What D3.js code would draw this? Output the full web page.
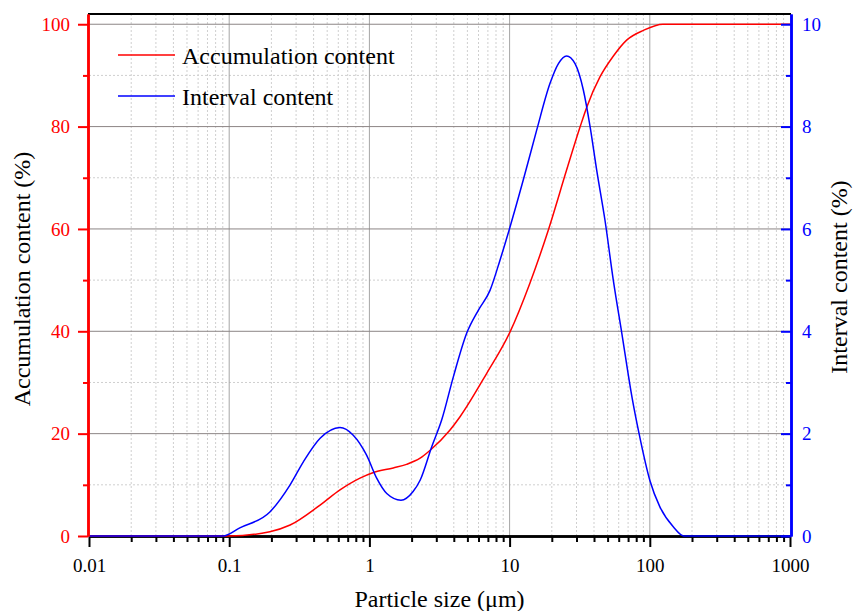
<!DOCTYPE html>
<html lang="en">
<head>
<meta charset="utf-8">
<style>
  body { margin: 0; background: #fff; }
  svg text { font-family: "Liberation Serif", "Times New Roman", serif; }
</style>
<script src="https://d3js.org/d3.v7.min.js"></script>
</head>
<body>
<svg width="853" height="611"></svg>
<script>
// particle sizes (um) and readings taken off the chart
var accSizes = [0.01, 0.1, 0.195, 0.272, 0.445, 0.617, 0.857, 1.07, 1.48, 1.84, 2.3, 2.7, 3.76, 4.43, 6.87, 10, 14, 18.9, 25.5, 31.8, 35.5, 44.1, 55, 68.4, 90, 124, 1000];
var accValues = [0, 0, 0.85, 2.15, 6.05, 9.0, 11.3, 12.4, 13.3, 14.0, 15.2, 16.7, 20.7, 23.3, 31.8, 39.7, 49.5, 59.8, 71.5, 79.9, 83.8, 89.7, 93.8, 96.9, 98.8, 100, 100];

var intSizes = [0.01, 0.09, 0.119, 0.195, 0.272, 0.338, 0.445, 0.617, 0.767, 0.955, 1.127, 1.33, 1.68, 2.05, 2.3, 2.78, 3.28, 3.97, 4.94, 5.98, 7.25, 8.54, 9.95, 12.5, 15.6, 19.4, 22.3, 25.5, 29.3, 33.6, 37.5, 41.8, 47.9, 54.9, 63, 75, 84, 100, 118, 147, 175, 1000];
var intValues = [0, 0, 0.16, 0.47, 1.0, 1.45, 1.91, 2.12, 1.97, 1.58, 1.13, 0.83, 0.70, 0.87, 1.09, 1.74, 2.27, 3.11, 3.96, 4.41, 4.80, 5.39, 5.99, 6.95, 7.93, 8.84, 9.23, 9.38, 9.23, 8.71, 8.0, 7.15, 6.17, 5.0, 3.98, 2.68, 1.99, 1.09, 0.57, 0.18, 0, 0];

var xMajor = [0.01, 0.1, 1, 10, 100, 1000];
var xLabels = ["0.01", "0.1", "1", "10", "100", "1000"];
var leftTicks = [0, 20, 40, 60, 80, 100];
var leftMinor = [10, 30, 50, 70, 90];
var rightTicks = [0, 2, 4, 6, 8, 10];
var rightMinor = [1, 3, 5, 7, 9];
var seriesNames = ["Accumulation content", "Interval content"];

var svg = d3.select("svg");
var pL = 89, pR = 790, pT = 14, pB = 536;

var x = d3.scaleLog().domain([0.01, 1000]).range([pL, pR]);
var yL = d3.scaleLinear().domain([0, 102]).range([pB, pT]);
var yR = d3.scaleLinear().domain([0, 10.2]).range([pB, pT]);

var xMinor = [];
xMajor.slice(0, -1).forEach(function(d) {
  for (var k = 2; k <= 9; k++) xMinor.push(d * k);
});

// minor grid (dotted)
var grid = svg.append("g");
grid.selectAll(".vmin").data(xMinor).enter().append("line")
  .attr("x1", function(d) { return x(d); }).attr("x2", function(d) { return x(d); })
  .attr("y1", pT).attr("y2", pB)
  .attr("stroke", "#cfcfcf").attr("stroke-dasharray", "2,2");
grid.selectAll(".hmin").data(leftMinor).enter().append("line")
  .attr("x1", pL).attr("x2", pR)
  .attr("y1", function(d) { return yL(d); }).attr("y2", function(d) { return yL(d); })
  .attr("stroke", "#cfcfcf").attr("stroke-dasharray", "2,2");
// major grid
grid.selectAll(".vmaj").data(xMajor.slice(1, -1)).enter().append("line")
  .attr("x1", function(d) { return x(d); }).attr("x2", function(d) { return x(d); })
  .attr("y1", pT).attr("y2", pB)
  .attr("stroke", "#a5a5a5").attr("stroke-width", 1);
grid.selectAll(".hmaj").data(leftTicks.slice(1)).enter().append("line")
  .attr("x1", pL).attr("x2", pR)
  .attr("y1", function(d) { return yL(d); }).attr("y2", function(d) { return yL(d); })
  .attr("stroke", "#8c8585").attr("stroke-width", 1);

// top frame
svg.append("line")
  .attr("x1", pL - 1).attr("x2", pR + 1).attr("y1", pT).attr("y2", pT)
  .attr("stroke", "#000").attr("stroke-width", 2);

// bottom axis
var gx = svg.append("g").attr("transform", "translate(0," + pB + ")");
gx.call(d3.axisBottom(x).tickValues(xMinor).tickSize(6).tickSizeOuter(0).tickFormat(""));
var gx2 = svg.append("g").attr("transform", "translate(0," + pB + ")");
gx2.call(d3.axisBottom(x).tickValues(xMajor).tickSize(11).tickSizeOuter(0).tickPadding(12)
  .tickFormat(function(d, i) { return xLabels[i]; }));
[gx, gx2].forEach(function(g) {
  g.selectAll("line").attr("stroke", "#000").attr("stroke-width", 2);
  g.select(".domain").attr("stroke", "#000").attr("stroke-width", 2.5);
});
gx2.selectAll("text").attr("font-size", 19).attr("fill", "#000")
  .style("font-family", "Liberation Serif");

// curves
var line = d3.line().curve(d3.curveMonotoneX);
svg.append("path")
  .attr("d", line(accSizes.map(function(d, i) { return [x(d), yL(accValues[i])]; })))
  .attr("fill", "none").attr("stroke", "#ff0000").attr("stroke-width", 1.5);
svg.append("path")
  .attr("d", line(intSizes.map(function(d, i) { return [x(d), yR(intValues[i])]; })))
  .attr("fill", "none").attr("stroke", "#0000ff").attr("stroke-width", 1.5);

// left axis (red)
var gl = svg.append("g").attr("transform", "translate(" + (pL - 1) + ",0)");
gl.call(d3.axisLeft(yL).tickValues(leftMinor).tickSize(5).tickSizeOuter(0).tickFormat(""));
var gl2 = svg.append("g").attr("transform", "translate(" + (pL - 1) + ",0)");
gl2.call(d3.axisLeft(yL).tickValues(leftTicks).tickSize(10).tickSizeOuter(0).tickPadding(8));
[gl, gl2].forEach(function(g) {
  g.selectAll("line").attr("stroke", "#ff0000").attr("stroke-width", 2);
  g.select(".domain").attr("stroke", "#ff0000").attr("stroke-width", 2.5);
});
gl2.selectAll("text").attr("font-size", 19).attr("fill", "#ff0000")
  .style("font-family", "Liberation Serif");

// right axis (blue), ticks pointing inward
var gr = svg.append("g").attr("transform", "translate(" + (pR + 1) + ",0)");
gr.call(d3.axisRight(yR).tickValues(rightMinor).tickSize(-5).tickSizeOuter(0).tickFormat(""));
var gr2 = svg.append("g").attr("transform", "translate(" + (pR + 1) + ",0)");
gr2.call(d3.axisRight(yR).tickValues(rightTicks).tickSize(-10).tickSizeOuter(0).tickPadding(11));
[gr, gr2].forEach(function(g) {
  g.selectAll("line").attr("stroke", "#0000ff").attr("stroke-width", 2);
  g.select(".domain").attr("stroke", "#0000ff").attr("stroke-width", 2.5);
});
gr2.selectAll("text").attr("font-size", 19).attr("fill", "#0000ff")
  .style("font-family", "Liberation Serif");

// axis titles
svg.append("text")
  .attr("transform", "translate(30," + ((pT + pB) / 2 + 4) + ") rotate(-90)")
  .attr("text-anchor", "middle").attr("font-size", 24).attr("fill", "#000")
  .text("Accumulation content (%)");
svg.append("text")
  .attr("transform", "translate(847," + ((pT + pB) / 2 + 2) + ") rotate(-90)")
  .attr("text-anchor", "middle").attr("font-size", 24).attr("fill", "#000")
  .text("Interval content (%)");
svg.append("text")
  .attr("x", (pL + pR) / 2).attr("y", 607)
  .attr("text-anchor", "middle").attr("font-size", 24).attr("fill", "#000")
  .text("Particle size (\u03bcm)");

// legend
var legColors = ["#ff0000", "#0000ff"];
var leg = svg.append("g").selectAll("g").data(seriesNames).enter().append("g")
  .attr("transform", function(d, i) { return "translate(118," + (55 + i * 41) + ")"; });
leg.append("line").attr("x1", 0).attr("x2", 57).attr("y1", 0).attr("y2", 0)
  .attr("stroke", function(d, i) { return legColors[i]; }).attr("stroke-width", 1.5);
leg.append("text").attr("x", 64).attr("y", 9).attr("font-size", 24).attr("fill", "#000")
  .text(function(d) { return d; });
</script>
</body>
</html>
